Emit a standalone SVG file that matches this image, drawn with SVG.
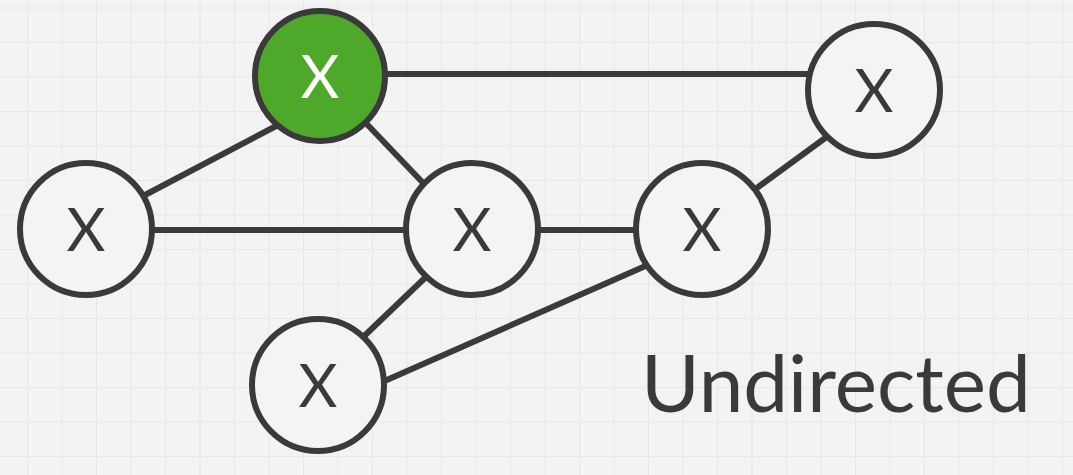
<svg xmlns="http://www.w3.org/2000/svg" width="1073" height="475" viewBox="0 0 1073 475">
  <defs>
    <pattern id="grid" x="27" y="7.5" width="34.5" height="34.5" patternUnits="userSpaceOnUse">
      <rect width="34.5" height="34.5" fill="#f3f3f3"/>
      <path d="M0 0 H34.5 M0 0 V34.5" stroke="#e4e4e4" stroke-width="1.5" fill="none"/>
    </pattern>
  </defs>
  <style>
    .edge { stroke: #3a3a3a; stroke-width: 6; stroke-linecap: butt; fill: none; }
    .node { fill: #f4f4f4; stroke: #3a3a3a; stroke-width: 6; }
    .node.sel { fill: #4ea829; }
    .lbl { font-family: Lato, "Noto Sans", "Liberation Sans", sans-serif; font-weight: 400; font-size: 60px; fill: #3a3a3a; text-anchor: middle; }
    .lbl.sel { fill: #ffffff; }
    .title { font-family: Lato, "Noto Sans", "Liberation Sans", sans-serif; font-weight: 400; font-size: 80px; fill: #3a3a3a; }
  </style>
  <rect width="1073" height="475" fill="url(#grid)"/>
  <g id="connectors">
    <line class="edge" x1="320" y1="74" x2="874" y2="74"/>
    <line class="edge" x1="145" y1="195" x2="280" y2="124"/>
    <line class="edge" x1="362" y1="119" x2="426" y2="186"/>
    <line class="edge" x1="86" y1="230" x2="472" y2="230"/>
    <line class="edge" x1="472" y1="230" x2="702" y2="230"/>
    <line class="edge" x1="750" y1="193" x2="832" y2="133"/>
    <line class="edge" x1="360" y1="340" x2="428" y2="275"/>
    <line class="edge" x1="380" y1="383" x2="650" y2="264"/>
  </g>
  <g id="node-green">
    <circle class="node sel" cx="320" cy="76" r="65"/>
    <text class="lbl sel" x="320" y="98">X</text>
  </g>
  <g id="node-topright">
    <circle class="node" cx="874" cy="90" r="66"/>
    <text class="lbl" x="874" y="112">X</text>
  </g>
  <g id="node-left">
    <circle class="node" cx="86" cy="229" r="66"/>
    <text class="lbl" x="86" y="251">X</text>
  </g>
  <g id="node-middle">
    <circle class="node" cx="472" cy="229" r="66"/>
    <text class="lbl" x="472" y="251">X</text>
  </g>
  <g id="node-rightmiddle">
    <circle class="node" cx="702" cy="229" r="66"/>
    <text class="lbl" x="702" y="251">X</text>
  </g>
  <g id="node-bottom">
    <circle class="node" cx="318" cy="385" r="66"/>
    <text class="lbl" x="318" y="407">X</text>
  </g>
  <g id="title">
    <text class="title" x="641" y="412">Undirected</text>
  </g>
</svg>
